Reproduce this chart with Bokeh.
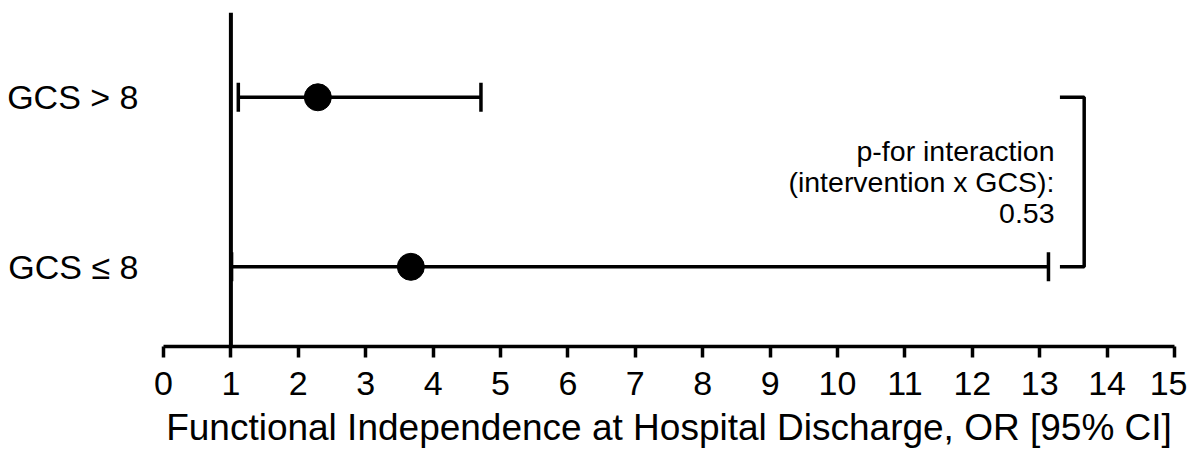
import math
from bokeh.plotting import figure
from bokeh.models import Span, FixedTicker, ColumnDataSource
from bokeh.core.properties import value
from bokeh.embed import file_html
from bokeh.resources import INLINE

# ---- data ----
groups = ["GCS > 8", "GCS \u2264 8"]
row_pos = [2, 1]
odds_ratio = [2.29, 3.67]
ci_lower = [1.11, 1.01]
ci_upper = [4.71, 13.13]
x_ticks = list(range(0, 16))
annotation_lines = ["p-for interaction", "(intervention x GCS):", "0.53"]
x_title = "Functional Independence at Hospital Discharge, OR [95% CI]"
reference_or = 1

FONT = "Liberation Sans"

p = figure(width=1187, height=460, x_range=(0, 15), y_range=(0.53, 2.5),
           output_backend="svg", toolbar_location=None,
           min_border_left=163, min_border_right=13, min_border_top=12,
           min_border_bottom=114)
p.outline_line_color = None
p.grid.visible = False
p.background_fill_color = "white"
p.border_fill_color = "white"

# x axis
xa = p.xaxis[0]
xa.ticker = FixedTicker(ticks=x_ticks)
xa.axis_line_width = 3.5
xa.major_tick_line_width = 3.5
xa.major_tick_out = 11
xa.major_tick_in = 0
xa.minor_tick_out = 0
xa.minor_tick_in = 0
xa.major_label_text_font = FONT
xa.major_label_text_font_size = "34px"
xa.major_label_text_color = "black"
xa.major_label_standoff = 14
xa.axis_label = x_title
xa.axis_label_text_font = FONT
xa.axis_label_text_font_size = "37px"
xa.axis_label_text_font_style = "normal"
xa.axis_label_text_color = "black"
xa.axis_label_standoff = 9

# y axis
ya = p.yaxis[0]
ya.ticker = FixedTicker(ticks=row_pos)
ya.major_label_overrides = {r: g for r, g in zip(row_pos, groups)}
ya.axis_line_color = None
ya.major_tick_line_color = None
ya.minor_tick_line_color = None
ya.major_label_text_font = FONT
ya.major_label_text_font_size = "34px"
ya.major_label_text_color = "black"
ya.major_label_standoff = 19

# reference line
p.add_layout(Span(location=reference_or, dimension="height", line_color="black", line_width=4))

src = ColumnDataSource(dict(y=row_pos, est=odds_ratio, lo=ci_lower, hi=ci_upper))
p.segment(x0="lo", x1="hi", y0="y", y1="y", source=src, line_color="black", line_width=3.5)
p.scatter(x="lo", y="y", source=src, marker="dash", angle=math.pi / 2, size=29,
          line_color="black", line_width=3.5)
p.scatter(x="hi", y="y", source=src, marker="dash", angle=math.pi / 2, size=29,
          line_color="black", line_width=3.5)
p.scatter(x="est", y="y", source=src, marker="circle", size=27,
          fill_color="black", line_color="black")

# bracket linking the two subgroups
bx0, bx1 = 13.3, 13.66
p.line(x=[bx0, bx1, bx1, bx0], y=[row_pos[0], row_pos[0], row_pos[1], row_pos[1]],
       line_color="black", line_width=3.5)

# interaction annotation
mid = (row_pos[0] + row_pos[1]) / 2
step = 0.185
ann_y = [mid + step - i * step for i in range(len(annotation_lines))]
p.text(x=[13.22] * 3, y=ann_y, text=annotation_lines, text_align="right",
       text_baseline="middle", text_font=value(FONT), text_font_size="28.5px",
       text_color="black")

open("out.html", "w").write(file_html(p, INLINE))
